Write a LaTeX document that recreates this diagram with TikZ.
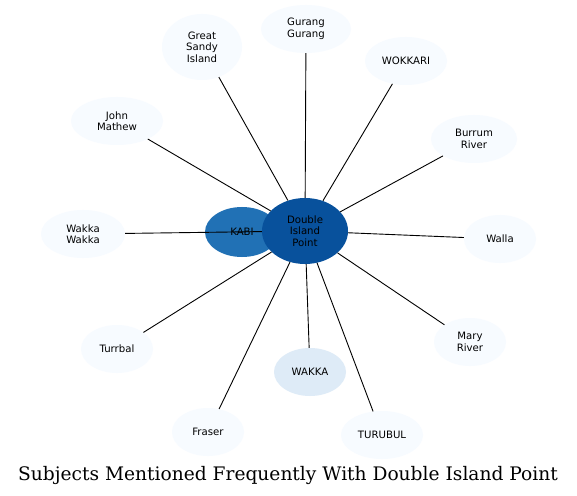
\documentclass[tikz,border=0pt]{standalone}
\usepackage{fontspec}
\newfontfamily\nodefont{DejaVu Sans}
\newfontfamily\titlefont{DejaVu Serif}
\usetikzlibrary{shapes.geometric}
\pgfdeclarelayer{background}
\pgfsetlayers{background,main}
\definecolor{hub}{HTML}{08519C}
\definecolor{mid}{HTML}{2171B5}
\definecolor{lightb}{HTML}{DEEBF7}
\definecolor{pale}{HTML}{F7FBFF}
\tikzset{
  blob/.style={ellipse, draw=none, inner sep=0pt, align=center,
    font=\nodefont\fontsize{10.2}{11.5}\selectfont, text=black},
  palenode/.style={blob, fill=pale},
  link/.style={draw=black, line width=0.9bp}
}
\begin{document}
\begin{tikzpicture}[x=1bp,y=-1bp]
\useasboundingbox (0,0) rectangle (577,496);
\fill[white] (0,0) rectangle (577,496);
% nodes
\node[blob, fill=mid, minimum width=74bp, minimum height=50bp] (kabi) at (242,232) {KABI};
\node[blob, fill=hub, minimum width=86bp, minimum height=66bp] (dip) at (305,231) {Double\\Island\\Point};
\node[blob, fill=lightb, minimum width=72bp, minimum height=48bp] (wakka) at (310,372) {WAKKA};
\node[palenode, minimum width=80bp, minimum height=66bp] (gsi) at (202,47) {Great\\Sandy\\Island};
\node[palenode, minimum width=90bp, minimum height=48bp] (gg) at (306,29) {Gurang\\Gurang};
\node[palenode, minimum width=82bp, minimum height=48bp] (wok) at (406,61) {WOKKARI};
\node[palenode, minimum width=92bp, minimum height=48bp] (jm) at (117,121) {John\\Mathew};
\node[palenode, minimum width=86bp, minimum height=48bp] (br) at (474,139) {Burrum\\River};
\node[palenode, minimum width=84bp, minimum height=48bp] (ww) at (83,234) {Wakka\\Wakka};
\node[palenode, minimum width=72bp, minimum height=48bp] (walla) at (500,239) {Walla};
\node[palenode, minimum width=72bp, minimum height=48bp] (turrbal) at (117,349) {Turrbal};
\node[palenode, minimum width=72bp, minimum height=48bp] (mr) at (470,342) {Mary\\River};
\node[palenode, minimum width=72bp, minimum height=48bp] (fraser) at (208,432) {Fraser};
\node[palenode, minimum width=82bp, minimum height=48bp] (tur) at (382,435) {TURUBUL};
% title
\node[font=\titlefont\fontsize{18.7}{22}\selectfont, inner sep=0pt, anchor=base] (title) at (288,480) {Subjects Mentioned Frequently With Double Island Point};
% edges
\begin{pgfonlayer}{background}
\draw[link] (dip) -- (kabi);
\end{pgfonlayer}
\foreach \t in {gsi,gg,wok,jm,br,ww,walla,turrbal,mr,fraser,tur,wakka}{
  \draw[link] (dip) -- (\t);
}
\end{tikzpicture}
\end{document}
